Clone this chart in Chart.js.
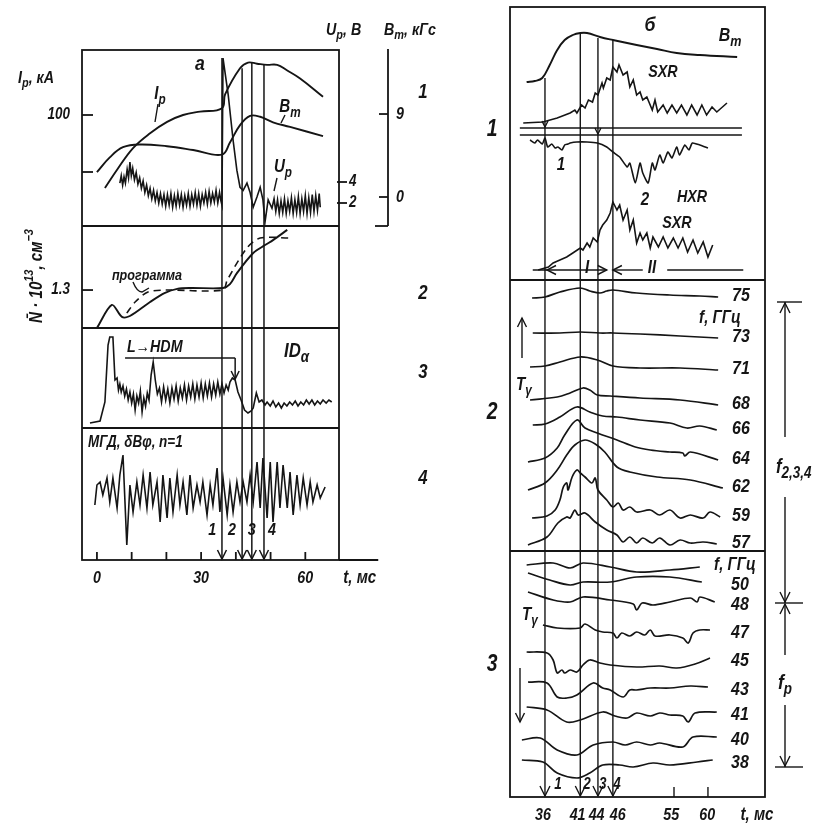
<!DOCTYPE html>
<html lang="ru">
  <head>
    <meta charset="UTF-8" />
    <title>Срыв разряда: сигналы и Tγ</title>
    <script src="https://cdn.jsdelivr.net/npm/chart.js"></script>
    <style>
      body { margin: 0; background: #fff; }
      #wrap { position: relative; width: 830px; height: 827px; }
      #wrap canvas { position: absolute; left: 0; top: 0; }
    </style>
  </head>
  <body>
    <div id="wrap">
      <canvas id="leftChart" width="830" height="827"></canvas>
      <canvas id="rightChart" width="830" height="827"></canvas>
    </div>

    <script>
      // ---------- panel а (left), t in ms ----------
      const leftTickT = [0, 30, 60];
      const leftMinorT = [0, 10, 20, 30, 40, 50, 60];
      const leftMarkT = [36.0, 41.8, 44.6, 48.1];
      const leftMarkTopIp = [150, 141, 146, 144]; // kA, where each marker meets the top curve
      const leftMarkText = ["1", "2", "3", "4"];
      const leftMarkTextT = [33.2, 38.9, 44.6, 50.4];
      const ipTickV = [50, 100];
      const ipTickText = ["", "100"];
      const btTickV = [0, 9];
      const upTickV = [2, 4];
      const densTickV = [1.3];
      const hdmArrowT = [8.1, 39.8];
      const hdmArrowV = 4.3;

      // plasma current, kA
      const ipCurve = [[2.3, 36], [5.8, 52], [10.4, 71], [15.3, 84], [20.2, 94], [24.8, 100], [29.7, 103], [36.0, 106],
        [36.9, 118], [41.2, 141], [43.5, 146], [46.1, 145], [49.0, 144], [51.9, 144], [54.8, 139], [58.5, 132], [65.1, 116]];
      // toroidal field, kGs
      const btLeft = [[0, 2.7], [3.7, 4.3], [7.5, 5.4], [12.4, 5.7], [20.2, 5.5], [27.7, 5.1], [36.0, 4.6], [38.3, 5.9],
        [41.2, 7.8], [44.1, 8.8], [47.0, 8.7], [50.7, 8.1], [55.6, 7.6], [65.1, 6.6]];
      // loop voltage, V
      const upVolt = [[6.6, 3.9], [7.0, 4.6], [7.4, 3.7], [7.8, 4.5], [8.2, 3.9], [8.7, 5.2], [9.1, 4.4], [9.5, 5.9], [9.9, 4.6],
        [10.3, 5.3], [10.8, 4.2], [11.3, 4.9], [11.8, 3.8], [12.3, 4.4], [12.8, 3.4], [13.3, 4.1], [13.8, 3.0], [14.3, 3.7],
        [14.8, 2.7], [15.3, 3.4], [15.8, 2.4], [16.3, 3.2], [16.8, 2.2], [17.3, 3.0], [17.8, 2.0], [18.3, 2.9], [18.8, 1.9],
        [19.3, 2.8], [19.8, 1.7], [20.3, 2.8], [20.8, 1.8], [21.3, 2.9], [21.8, 1.6], [22.3, 2.7], [22.8, 1.7], [23.3, 2.9],
        [23.8, 1.8], [24.3, 2.8], [24.8, 1.6], [25.3, 2.7], [25.8, 1.8], [26.3, 2.9], [26.8, 1.7], [27.3, 2.8], [27.8, 1.9],
        [28.3, 3.0], [28.8, 1.8], [29.3, 2.9], [29.8, 1.7], [30.3, 2.8], [30.8, 2.0], [31.3, 3.0], [31.8, 1.9], [32.3, 3.1],
        [32.8, 2.0], [33.3, 2.9], [33.8, 2.1], [34.3, 3.2], [34.8, 2.0], [35.3, 3.0], [35.7, 2.2], [36.0, 1.8], [36.3, 15.8],
        [37.8, 12.3], [39.2, 8.0], [40.3, 5.1], [41.2, 3.5], [42.1, 3.2], [43.2, 3.9], [44.1, 3.0], [45.0, 1.6], [46.1, 2.6],
        [47.0, 3.5], [47.8, 2.3], [48.4, 0.2], [49.3, 2.3], [50.4, 1.5], [51.0, 2.4], [51.5, 1.2], [52.0, 2.3], [52.5, 1.0],
        [53.0, 2.2], [53.5, 1.1], [54.0, 2.4], [54.5, 1.0], [55.0, 2.2], [55.5, 1.2], [56.0, 2.5], [56.5, 1.0], [57.0, 2.3],
        [57.5, 1.1], [58.0, 2.6], [58.5, 1.0], [59.0, 2.4], [59.5, 1.2], [60.0, 2.7], [60.5, 1.0], [61.0, 2.5], [61.5, 1.1],
        [62.0, 2.8], [62.5, 1.2], [63.0, 2.7], [63.5, 1.3], [64.0, 2.9], [64.3, 1.6]];
      // mean density, 10^13 cm^-3
      const densN = [[0, 0.0], [4.3, 0.79], [7.2, 0.38], [9.5, 0.41], [15.3, 0.89], [19.6, 1.2], [23.1, 1.34], [26.8, 1.37],
        [36.3, 1.37], [38.3, 1.5], [40.3, 1.88], [45.0, 2.57], [48.4, 2.84], [50.7, 3.01], [54.8, 3.36]];
      const densProgram = [[8.6, 0.51], [11.0, 0.89], [14.7, 1.23], [20.2, 1.3], [36.3, 1.3], [37.5, 1.64], [43.2, 2.74],
        [47.0, 3.08], [55.6, 3.08]];
      // D-alpha, arb. units
      const idAlpha = [[-2.0, 0], [0.9, 0.2], [2.3, 2.1], [3.2, 7.8], [3.7, 8.6], [4.6, 8.6], [5.2, 4.3], [5.8, 4.5], [6.2, 3.3],
        [6.6, 3.9], [7.0, 3.1], [7.5, 3.7], [8.0, 2.7], [8.5, 3.4], [9.0, 2.3], [9.5, 3.1], [10.0, 2.0], [10.5, 2.9], [11.0, 1.3],
        [11.5, 2.7], [12.0, 2.0], [12.5, 3.2], [13.0, 1.1], [13.5, 2.5], [14.0, 1.7], [14.5, 3.0], [15.0, 2.3], [15.6, 4.8],
        [16.2, 6.1], [16.8, 4.3], [17.4, 2.9], [18.0, 3.5], [18.6, 2.1], [19.2, 3.6], [19.8, 2.3], [20.4, 3.4], [21.0, 2.0],
        [21.6, 3.5], [22.2, 2.4], [22.8, 3.7], [23.4, 2.2], [24.0, 3.5], [24.6, 2.5], [25.2, 3.8], [25.8, 2.3], [26.4, 3.7],
        [27.0, 2.6], [27.6, 3.9], [28.2, 2.4], [28.8, 3.8], [29.4, 2.6], [30.0, 4.0], [30.6, 2.5], [31.2, 3.9], [31.8, 2.7],
        [32.4, 4.0], [33.0, 2.6], [33.6, 3.9], [34.2, 2.8], [34.8, 4.1], [35.4, 2.9], [36.0, 3.9], [36.6, 3.0], [37.2, 3.8],
        [37.8, 3.3], [38.3, 4.1], [39.0, 4.5], [39.8, 4.3], [40.6, 3.1], [41.5, 2.3], [42.5, 1.3], [43.5, 1.0], [44.4, 1.2],
        [45.0, 1.5], [45.9, 3.0], [46.7, 2.1], [47.5, 2.3], [48.4, 1.8], [49.0, 2.1], [49.9, 1.7], [50.7, 2.2], [51.5, 1.6],
        [52.3, 2.0], [53.1, 1.5], [53.9, 2.0], [54.7, 1.7], [55.5, 2.1], [56.3, 1.8], [57.1, 2.2], [57.9, 1.7], [58.7, 2.1],
        [59.5, 1.8], [60.3, 2.3], [61.1, 1.9], [61.9, 2.3], [62.7, 1.8], [63.5, 2.2], [64.3, 1.9], [65.1, 2.3], [66.0, 2.0],
        [66.8, 2.3], [67.6, 2.1]];
      // MHD probe, arb. units
      const mhdSignal = [[-0.6, -1.3], [0, 0.7], [0.9, 1.0], [1.7, -0.3], [2.9, 1.4], [3.7, -1.0], [4.6, 1.4], [5.8, -1.6],
        [6.6, 1.7], [7.5, 3.7], [8.6, -5.3], [9.5, 0.7], [10.4, -2.0], [11.5, 1.0], [12.4, -1.3], [13.3, 1.7], [14.4, -1.6],
        [15.3, 2.0], [16.1, -1.3], [17.3, 1.0], [18.2, -3.0], [19.0, 1.7], [20.2, -2.6], [21.0, 1.4], [21.9, -2.0], [23.1, 1.7],
        [23.9, -1.3], [24.8, 1.0], [25.9, -2.3], [26.8, 1.7], [27.7, -1.6], [28.8, 0.7], [29.7, -1.0], [30.5, 1.0], [31.7, -2.3],
        [32.6, 0.7], [33.4, -1.3], [34.6, 2.4], [35.4, -2.0], [36.3, 1.4], [37.5, -2.3], [38.3, 0.7], [39.2, -2.0], [40.3, 1.0],
        [41.2, -1.0], [42.1, 1.0], [43.2, -1.0], [44.1, 1.7], [45.0, -1.0], [46.1, 3.0], [47.0, -1.6], [47.8, 3.4], [49.0, -2.6],
        [49.9, 3.0], [50.7, -3.0], [51.9, 3.0], [52.7, -1.6], [53.6, 2.7], [54.8, -1.6], [55.6, 2.0], [56.5, -2.3], [57.6, 1.7],
        [58.5, -1.3], [59.4, 1.4], [60.5, -1.3], [61.4, 1.0], [62.2, -1.0], [63.4, 0.7], [64.3, -0.6], [65.7, 0.5]];

      // ---------- panel б (right), t in ms ----------
      const rightTickT = [36, 41, 44, 46, 55, 60];
      const rightTickTextT = [35.7, 40.8, 43.6, 46.7, 54.6, 59.9];
      const rightMinorT = [55, 60];
      const rightMarkT = [36.0, 41.2, 43.8, 46.0];
      const rightMarkTopBt = [0.4, 4.9, 4.4, 4.2];
      const rightMarkTextT = [37.9, 42.2, 44.5, 46.6];
      const refLineT = [32.3, 65.0];
      const phaseI = [34.2, 36.3, 45.1];
      const phaseII = [46.0, 50.4, 54.0, 65.2];

      const btRight = [[33.3, 0], [34.5, 0.1], [35.6, 0.4], [36.7, 1.7], [37.8, 3.2], [38.9, 4.2], [40.1, 4.7], [41.2, 4.9],
        [42.2, 4.9], [44.1, 4.5], [46.0, 4.2], [49.5, 3.7], [52.5, 3.3], [55.4, 2.9], [58.8, 2.7], [64.3, 2.5]];
      const sxrTop = [[32.8, 0.2], [35.7, 0.3], [37.8, 0.7], [39.7, 1.2], [40.4, 1.5], [40.7, 1.2], [41.4, 2.0], [41.9, 1.7],
        [42.4, 2.5], [43.0, 2.3], [43.4, 3.2], [43.8, 3.0], [44.4, 4.2], [44.6, 3.7], [45.1, 4.7], [45.6, 4.5], [46.0, 5.8],
        [46.6, 5.3], [46.9, 6.0], [47.5, 5.0], [48.1, 5.3], [48.5, 3.8], [49.0, 4.5], [49.5, 3.0], [50.0, 3.3], [50.4, 2.5],
        [51.0, 2.8], [51.8, 1.5], [52.2, 2.5], [52.6, 1.3], [53.4, 2.0], [54.0, 1.2], [54.7, 2.0], [55.4, 1.2], [56.1, 2.0],
        [56.9, 1.0], [57.6, 2.0], [58.4, 1.0], [59.1, 2.0], [59.8, 1.0], [60.6, 1.8], [61.3, 1.3], [62.8, 2.2]];
      const hxrTrace = [[33.8, 0], [34.5, -0.3], [34.9, 0], [35.6, -0.4], [36.0, 0.2], [36.4, -0.7], [37.0, -0.4], [37.5, -0.8],
        [37.9, -0.7], [38.5, -1.0], [38.9, -0.5], [39.4, -0.4], [39.7, -0.3], [40.7, -0.2], [42.2, -0.2], [43.7, -0.3],
        [45.1, -0.7], [46.0, -1.2], [47.0, -1.7], [48.1, -2.7], [48.5, -2.3], [49.3, -4.3], [50.0, -2.3], [50.4, -3.3],
        [51.2, -4.3], [51.8, -2.3], [52.2, -3.0], [52.9, -1.5], [53.4, -2.3], [54.1, -1.2], [54.7, -1.8], [55.4, -0.7],
        [55.8, -1.5], [56.6, -0.5], [57.2, -1.0], [57.7, -0.3], [58.8, -0.5], [60.0, -0.8]];
      const sxrLow = [[35.0, 0.2], [36.5, 0.5], [37.2, 0.9], [38.2, 1.2], [39.2, 1.5], [40.1, 1.9], [41.2, 2.4], [41.6, 2.2],
        [42.2, 2.9], [42.6, 2.5], [43.1, 3.4], [43.7, 3.0], [44.1, 4.2], [44.5, 4.7], [45.1, 5.2], [45.6, 5.9], [46.0, 7.0],
        [46.6, 6.2], [47.0, 6.7], [47.5, 5.2], [48.1, 6.2], [48.5, 4.2], [49.0, 5.2], [49.5, 2.9], [50.0, 3.9], [50.4, 3.2],
        [51.0, 3.9], [51.5, 2.4], [51.9, 3.5], [52.7, 2.5], [53.4, 3.5], [54.1, 2.4], [54.9, 3.4], [55.6, 2.4], [56.3, 3.4],
        [57.0, 2.0], [57.8, 3.2], [58.5, 1.9], [59.3, 3.0], [60.0, 1.5], [60.7, 2.7]];

      // ECE temperature traces, section 2 (f = 75 ... 57 GHz)
      const freq2 = ["75", "73", "71", "68", "66", "64", "62", "59", "57"];
      const f75 = [[34.1, 0], [36.0, 0.1], [38.2, 0.6], [41.2, 1.0], [42.6, 0.7], [44.1, 0.5], [45.1, 0.7], [46.0, 0.8],
        [49.5, 0.5], [54.4, 0.3], [58.8, 0.2], [61.5, 0.1]];
      const f73 = [[34.2, 0], [38.2, 0], [41.2, 0.1], [44.1, 0], [46.0, 0], [50.0, -0.1], [55.9, -0.3], [61.5, -0.5]];
      const f71 = [[33.8, 0], [36.0, 0.1], [38.2, 0.5], [41.2, 1.0], [43.7, 0.7], [46.0, 0.1], [50.0, -0.1], [55.9, -0.1],
        [61.5, -0.3]];
      const f68 = [[33.8, 0], [37.8, 0.3], [39.7, 0.7], [41.6, 1.2], [42.6, 1.0], [43.7, 0.5], [45.6, 0.4], [50.0, 0.2],
        [55.9, 0], [61.5, -0.5]];
      const f66 = [[34.2, 0], [36.0, 0.1], [38.2, 0.8], [40.7, 1.8], [42.6, 1.3], [44.5, 0.9], [46.6, 0.8], [50.0, 0.5],
        [54.4, 0.2], [56.9, -0.3], [58.8, -0.1], [61.3, -0.5]];
      const f64 = [[33.5, 0], [36.0, 0.4], [37.8, 1.4], [38.9, 2.7], [40.7, 4.2], [41.9, 3.4], [43.7, 2.9], [46.6, 2.2],
        [49.3, 1.5], [51.5, 1.2], [54.4, 1.0], [56.3, 0.9], [56.6, 0.6], [57.4, 1.0], [61.5, 0.2]];
      const f62 = [[33.5, 0], [36.0, 0.7], [37.8, 2.0], [39.2, 3.5], [40.4, 4.5], [41.9, 5.0], [43.4, 4.6], [44.8, 3.8],
        [46.6, 2.3], [48.5, 1.8], [52.5, 1.3], [57.4, 1.0], [62.2, 0.2]];
      const f59 = [[34.1, 0], [36.3, 0.2], [37.5, 0.8], [38.2, 1.8], [38.7, 3.1], [39.2, 3.5], [39.4, 2.8], [40.0, 4.1],
        [40.7, 4.8], [41.2, 4.5], [41.9, 4.1], [42.9, 3.5], [43.4, 4.0], [43.8, 2.8], [45.1, 1.8], [46.0, 1.1], [46.8, 1.5],
        [47.5, 0.8], [48.5, 1.1], [49.5, 0.6], [51.5, 0.8], [52.9, 0.3], [54.4, 0.8], [55.9, 0], [57.4, 0.3], [59.3, 0],
        [60.3, 0.6], [61.8, 0.1]];
      const f57 = [[33.5, 0], [36.3, 0.8], [37.9, 2.2], [39.2, 2.8], [39.7, 2.7], [40.4, 3.5], [40.9, 3.0], [41.9, 3.2],
        [43.4, 2.3], [45.1, 1.5], [46.6, 1.0], [47.5, 0.3], [48.5, 0.8], [49.5, 0.2], [50.4, 0.7], [51.8, 0.2], [52.9, 0.7],
        [54.4, 0], [55.9, 0.5], [57.4, 0.2], [59.3, 0.3], [61.3, 0.1]];

      // section 3 (f = ... 50 ... 38 GHz)
      const freq3 = ["", "50", "48", "47", "45", "43", "41", "40", "38"];
      const fTop = [[33.3, 0], [37.2, 0.2], [39.7, -0.3], [41.6, 0.2], [45.6, -0.2], [49.5, -0.7], [54.4, -0.5], [58.8, -0.2]];
      const f50 = [[33.5, 0], [36.7, -0.7], [39.7, -1.2], [41.6, -0.9], [45.6, -0.9], [49.5, -0.4], [54.4, -0.4], [59.1, -0.9]];
      const f48 = [[33.5, 0], [37.2, -0.8], [39.7, -1.0], [41.6, -0.5], [45.6, -0.8], [49.0, -1.2], [49.5, -1.8], [50.3, -1.1],
        [51.9, -1.3], [54.4, -1.0], [57.4, -0.6], [58.4, -1.0], [58.8, -0.5], [61.0, -1.0]];
      const f47 = [[35.7, 0], [37.8, -0.3], [41.2, -0.3], [41.9, 0.1], [43.4, -0.5], [44.5, -0.7], [46.0, -0.8], [46.6, -1.3],
        [47.3, -0.8], [48.5, -1.1], [49.5, -0.7], [50.7, -1.0], [51.5, -0.5], [52.2, -1.1], [54.4, -1.0], [56.3, -1.3],
        [57.1, -1.8], [57.8, -0.8], [58.8, -0.5], [60.3, -0.5]];
      const f45 = [[33.3, 0], [36.3, -0.1], [37.2, -0.8], [37.8, -2.1], [38.5, -1.8], [38.9, -2.1], [39.7, -1.8], [40.7, -2.0],
        [41.6, -1.3], [42.6, -0.8], [44.1, -1.1], [45.6, -1.3], [49.5, -1.5], [52.9, -1.4], [55.4, -1.6], [58.1, -1.2],
        [60.3, -0.6]];
      const f43 = [[33.5, 0], [36.3, -0.1], [37.8, -1.5], [39.2, -1.6], [40.7, -1.3], [43.1, -0.1], [44.5, -0.6], [45.6, -0.8],
        [47.5, -1.5], [48.5, -0.8], [49.5, -0.8], [51.5, -0.6], [54.4, -0.6], [57.4, -0.4], [60.0, -0.5]];
      const f41 = [[33.3, 0], [36.3, -0.3], [39.2, -1.5], [41.2, -1.3], [44.5, -0.5], [46.3, -0.9], [48.1, -1.1], [49.5, -0.6],
        [51.5, -0.9], [52.9, -0.6], [54.4, -0.8], [56.3, -0.9], [57.1, -1.5], [58.1, -0.6], [61.3, -0.5]];
      const f40 = [[32.6, 0], [35.3, 0.2], [37.8, -1.0], [40.7, -1.5], [43.1, -0.5], [46.0, -0.2], [47.8, -0.5], [49.5, -0.2],
        [51.5, -0.5], [52.9, -0.3], [56.3, -0.7], [57.8, 0.3], [61.3, 0.3]];
      const f38 = [[32.6, 0], [35.7, -0.2], [37.8, -1.3], [40.7, -1.8], [42.6, -1.3], [44.5, -0.5], [47.0, -0.5], [49.0, -0.7],
        [51.9, -0.3], [54.4, -0.5], [58.4, -0.2], [60.7, 0]];

      // ---------- layout (page pixels) ----------
      const INK = "#151515";
      const FONT = '"Liberation Sans", "DejaVu Sans", sans-serif';
      const SQUEEZE = 0.84; // narrow the lettering like the drafting font
      const LEFT_BOX = { left: 82, right: 339, top: 50, bottom: 560 };
      const LEFT_T = { min: -4.3, max: 69.7, axisEnd: 81 };
      const LEFT_STRIPS = [226, 328, 428];
      const BT_AXIS = { x: 388, top: 49 };
      // [pixel of zero, pixels per unit] for each left trace
      const LEFT_Y = { ip: [229, 1.14], bt: [197, 9.22], up: [224, 10.5], dens: [328, 29.2], ida: [423, 10], mhd: [492, 10] };
      const RIGHT_BOX = { left: 510, right: 765, top: 7, bottom: 797 };
      const RIGHT_T = { min: 30.85, max: 68.4 };
      const RIGHT_SECTIONS = [280, 551];
      const REF_LINES = [128, 135];
      const RIGHT_K = 10;
      const RIGHT_Y1 = { btR: 82, sxrA: 125, hxr: 140, sxrB: 272 };
      const RIGHT_Y2 = [298, 333, 367, 400, 425, 462, 490, 518, 545];
      const RIGHT_Y3 = [565, 573, 592, 625, 652, 682, 707, 740, 760];

      function pad(box) {
        return { left: box.left, top: box.top, right: 830 - box.right, bottom: 827 - box.bottom };
      }

      // hidden y scale whose zero sits at pixel `zero`, k pixels per unit
      function yAxis(zero, k, box) {
        return { type: "linear", display: false, min: (zero - box.bottom) / k, max: (zero - box.top) / k };
      }

      function trace(pts, axis, tension, extra) {
        return Object.assign({
          data: pts.map((p) => ({ x: p[0], y: p[1] })),
          yAxisID: axis,
          borderColor: INK,
          borderWidth: 1.9,
          pointRadius: 0,
          tension: tension,
          fill: false
        }, extra || {});
      }

      function seg(ctx, x1, y1, x2, y2) {
        ctx.beginPath();
        ctx.moveTo(x1, y1);
        ctx.lineTo(x2, y2);
        ctx.stroke();
      }

      function head(ctx, x, y, dir, s) {
        const w = s * 0.5;
        ctx.beginPath();
        if (dir === "down") { ctx.moveTo(x - w, y - s); ctx.lineTo(x, y); ctx.lineTo(x + w, y - s); }
        if (dir === "up") { ctx.moveTo(x - w, y + s); ctx.lineTo(x, y); ctx.lineTo(x + w, y + s); }
        if (dir === "left") { ctx.moveTo(x + s, y - w); ctx.lineTo(x, y); ctx.lineTo(x + s, y + w); }
        if (dir === "right") { ctx.moveTo(x - s, y - w); ctx.lineTo(x, y); ctx.lineTo(x - s, y + w); }
        ctx.stroke();
      }

      // italic text with optional {sub:..} / {sup:..} parts
      function write(ctx, x, y, parts, size, align) {
        const segs = [].concat(parts).map((p) => {
          if (typeof p === "string") return { s: p, f: size, dy: 0 };
          if (p.sub !== undefined) return { s: p.sub, f: Math.round(size * 0.78), dy: size * 0.32 };
          return { s: p.sup, f: Math.round(size * 0.72), dy: -size * 0.42 };
        });
        let w = 0;
        segs.forEach((g) => {
          ctx.font = "italic bold " + g.f + "px " + FONT;
          g.w = ctx.measureText(g.s).width;
          w += g.w;
        });
        const sw = w * SQUEEZE;
        const x0 = align === "center" ? x - sw / 2 : align === "right" ? x - sw : x;
        ctx.save();
        ctx.translate(x0, y);
        ctx.scale(SQUEEZE, 1);
        ctx.textAlign = "left";
        ctx.textBaseline = "middle";
        let cx = 0;
        segs.forEach((g) => {
          ctx.font = "italic bold " + g.f + "px " + FONT;
          ctx.fillText(g.s, cx, g.dy);
          cx += g.w;
        });
        ctx.restore();
      }

      const leftDecor = {
        id: "leftDecor",
        afterDraw(chart) {
          const { ctx, chartArea: a } = chart;
          const X = (t) => chart.scales.x.getPixelForValue(t);
          const Y = (id, v) => chart.scales[id].getPixelForValue(v);
          ctx.save();
          ctx.strokeStyle = INK;
          ctx.fillStyle = INK;
          ctx.lineWidth = 1.8;

          // frame, strips, time axis
          ctx.strokeRect(a.left, a.top, a.right - a.left, a.bottom - a.top);
          LEFT_STRIPS.forEach((y) => seg(ctx, a.left, y, a.right, y));
          seg(ctx, a.right, a.bottom, X(LEFT_T.axisEnd), a.bottom);
          leftMinorT.forEach((t) => seg(ctx, X(t), a.bottom, X(t), a.bottom - 8));
          leftTickT.forEach((t) => write(ctx, X(t), a.bottom + 18, [String(t)], 17, "center"));
          write(ctx, X(LEFT_T.axisEnd) - 2, a.bottom + 18, ["t, мс"], 18, "right");

          // left ticks (Ip, density)
          ipTickV.forEach((v, i) => {
            const y = Y("ip", v);
            seg(ctx, a.left, y, a.left + 11, y);
            write(ctx, a.left - 12, y, [ipTickText[i]], 16, "right");
          });
          densTickV.forEach((v) => {
            const y = Y("dens", v);
            seg(ctx, a.left, y, a.left + 11, y);
            write(ctx, a.left - 12, y, [String(v)], 16, "right");
          });
          // Up ticks on the right edge
          upTickV.forEach((v) => {
            const y = Y("up", v);
            seg(ctx, a.right - 2, y, a.right + 8, y);
            write(ctx, a.right + 10, y, [String(v)], 16, "left");
          });
          // separate Bt axis
          seg(ctx, BT_AXIS.x, BT_AXIS.top, BT_AXIS.x, LEFT_STRIPS[0]);
          seg(ctx, BT_AXIS.x - 13, LEFT_STRIPS[0], BT_AXIS.x, LEFT_STRIPS[0]);
          btTickV.forEach((v) => {
            const y = Y("bt", v);
            seg(ctx, BT_AXIS.x - 9, y, BT_AXIS.x, y);
            write(ctx, BT_AXIS.x + 8, y, [String(v)], 17, "left");
          });

          // axis titles
          write(ctx, 18, 78, ["I", { sub: "p" }, ", кА"], 17, "left");
          write(ctx, 326, 30, ["U", { sub: "p" }, ", В"], 17, "left");
          write(ctx, 384, 30, ["B", { sub: "т" }, ", кГс"], 17, "left");
          ctx.save();
          ctx.translate(37, 276);
          ctx.rotate(-Math.PI / 2);
          write(ctx, 0, 0, ["N̄ · 10", { sup: "13" }, ", см", { sup: "−3" }], 18, "center");
          ctx.restore();

          // strip numbers
          [["1", 92], ["2", 293], ["3", 372], ["4", 478]].forEach((n) => write(ctx, 423, n[1], [n[0]], 20, "center"));

          // curve labels
          ctx.lineWidth = 1.4;
          write(ctx, 200, 64, ["а"], 21, "center");
          write(ctx, 160, 94, ["I", { sub: "p" }], 18, "center");
          seg(ctx, 158, 104, 155, 122);
          write(ctx, 290, 107, ["B", { sub: "т" }], 18, "center");
          seg(ctx, 285, 115, 281, 123);
          write(ctx, 283, 167, ["U", { sub: "p" }], 18, "center");
          seg(ctx, 277, 178, 274, 191);
          write(ctx, 147, 276, ["программа"], 15, "center");
          ctx.beginPath();
          ctx.moveTo(133, 282);
          ctx.quadraticCurveTo(137, 292, 142, 292);
          ctx.lineTo(149, 288);
          ctx.stroke();

          // L -> HDM transition arrow
          write(ctx, 127, 347, ["L→HDM"], 17, "left");
          ctx.lineWidth = 1.5;
          seg(ctx, X(hdmArrowT[0]), 358, X(hdmArrowT[1]), 358);
          seg(ctx, X(hdmArrowT[1]), 358, X(hdmArrowT[1]), Y("ida", hdmArrowV) - 1);
          head(ctx, X(hdmArrowT[1]), Y("ida", hdmArrowV) - 1, "down", 8);
          write(ctx, 284, 351, ["ID", { sub: "α" }], 20, "left");
          write(ctx, 88, 443, ["МГД, δBφ, n=1"], 16, "left");

          // event markers 1-4
          leftMarkT.forEach((t, i) => {
            const x = X(t);
            seg(ctx, x, Y("ip", leftMarkTopIp[i]), x, a.bottom - 1);
            head(ctx, x, a.bottom - 1, "down", 9);
            write(ctx, X(leftMarkTextT[i]), 530, [leftMarkText[i]], 17, "center");
          });
          ctx.restore();
        }
      };

      const rightDecor = {
        id: "rightDecor",
        afterDraw(chart) {
          const { ctx, chartArea: a } = chart;
          const X = (t) => chart.scales.x.getPixelForValue(t);
          const Y = (id, v) => chart.scales[id].getPixelForValue(v);
          ctx.save();
          ctx.strokeStyle = INK;
          ctx.fillStyle = INK;
          ctx.lineWidth = 1.8;

          ctx.strokeRect(a.left, a.top, a.right - a.left, a.bottom - a.top);
          RIGHT_SECTIONS.forEach((y) => seg(ctx, a.left, y, a.right, y));
          ctx.lineWidth = 1.4;
          REF_LINES.forEach((y) => seg(ctx, X(refLineT[0]), y, X(refLineT[1]), y));
          head(ctx, X(rightMarkT[0]), REF_LINES[0] - 1, "down", 6);
          head(ctx, X(rightMarkT[2]), REF_LINES[1] - 1, "down", 6);

          // event markers
          rightMarkT.forEach((t, i) => {
            const x = X(t);
            seg(ctx, x, Y("btR", rightMarkTopBt[i]), x, a.bottom - 1);
            head(ctx, x, a.bottom - 1, "down", 10);
            write(ctx, X(rightMarkTextT[i]), 785, [leftMarkText[i]], 16, "center");
          });

          // time axis
          rightMinorT.forEach((t) => seg(ctx, X(t), a.bottom, X(t), a.bottom - 10));
          rightTickT.forEach((t, i) => write(ctx, X(rightTickTextT[i]), a.bottom + 18, [String(t)], 17, "center"));
          write(ctx, 757, a.bottom + 18, ["t, мс"], 18, "center");

          // phases I and II
          const py = 270;
          seg(ctx, X(phaseI[0]), py, X(phaseI[2]), py);
          head(ctx, X(phaseI[1]), py, "left", 9);
          head(ctx, X(phaseI[2]), py, "right", 9);
          seg(ctx, X(phaseII[0]), py, X(phaseII[1]), py);
          head(ctx, X(phaseII[0]), py, "left", 9);
          seg(ctx, X(phaseII[2]), py, X(phaseII[3]), py);
          write(ctx, 587, 268, ["I"], 18, "center");
          write(ctx, 652, 268, ["II"], 18, "center");

          // section 1 labels
          write(ctx, 650, 25, ["б"], 21, "center");
          write(ctx, 730, 36, ["B", { sub: "т" }], 19, "center");
          write(ctx, 663, 72, ["SXR"], 17, "center");
          write(ctx, 561, 165, ["1"], 18, "center");
          write(ctx, 645, 200, ["2"], 18, "center");
          write(ctx, 692, 197, ["HXR"], 17, "center");
          write(ctx, 677, 223, ["SXR"], 17, "center");

          // section numbers
          [["1", 130], ["2", 413], ["3", 665]].forEach((n) => write(ctx, 492, n[1], [n[0]], 23, "center"));

          // frequency labels
          write(ctx, 720, 318, ["f, ГГц"], 18, "center");
          write(ctx, 735, 565, ["f, ГГц"], 18, "center");
          ecs2.forEach((pts, i) => {
            const last = pts[pts.length - 1];
            write(ctx, 741, Y("s2_" + i, last[1]) - 1, [freq2[i]], 19, "center");
          });
          ecs3.forEach((pts, i) => {
            if (!freq3[i]) return;
            const last = pts[pts.length - 1];
            write(ctx, 740, Y("s3_" + i, last[1]) + 3, [freq3[i]], 19, "center");
          });

          // T_gamma arrows
          write(ctx, 524, 385, ["T", { sub: "γ" }], 18, "center");
          seg(ctx, 522, 358, 522, 318);
          head(ctx, 522, 318, "up", 9);
          write(ctx, 530, 615, ["T", { sub: "γ" }], 18, "center");
          seg(ctx, 520, 668, 520, 722);
          head(ctx, 520, 722, "down", 9);

          // frequency ranges on the right
          const bx = 785;
          seg(ctx, 777, 302, 802, 302);
          seg(ctx, bx, 302, bx, 437);
          head(ctx, bx, 303, "up", 10);
          write(ctx, 776, 467, ["f", { sub: "2,3,4" }], 20, "left");
          seg(ctx, bx, 497, bx, 603);
          head(ctx, bx, 602, "down", 10);
          seg(ctx, 775, 603, 803, 603);
          head(ctx, bx, 604, "up", 10);
          seg(ctx, bx, 604, bx, 655);
          write(ctx, bx, 683, ["f", { sub: "p" }], 21, "center");
          seg(ctx, bx, 705, bx, 767);
          head(ctx, bx, 766, "down", 10);
          seg(ctx, 775, 767, 803, 767);
          ctx.restore();
        }
      };

      const ecs2 = [f75, f73, f71, f68, f66, f64, f62, f59, f57];
      const ecs3 = [fTop, f50, f48, f47, f45, f43, f41, f40, f38];

      // ---------- left chart ----------
      const leftScales = { x: { type: "linear", display: false, min: LEFT_T.min, max: LEFT_T.max } };
      Object.keys(LEFT_Y).forEach((id) => {
        leftScales[id] = yAxis(LEFT_Y[id][0], LEFT_Y[id][1], LEFT_BOX);
      });

      new Chart(document.getElementById("leftChart"), {
        type: "line",
        data: {
          datasets: [
            trace(ipCurve, "ip", 0.4),
            trace(btLeft, "bt", 0.4),
            trace(upVolt, "up", 0, { borderWidth: 1.6 }),
            trace(densN, "dens", 0.3),
            trace(densProgram, "dens", 0.3, { borderDash: [7, 5], borderWidth: 1.6 }),
            trace(idAlpha, "ida", 0, { borderWidth: 1.6 }),
            trace(mhdSignal, "mhd", 0, { borderWidth: 1.6 })
          ]
        },
        options: {
          responsive: false,
          animation: false,
          events: [],
          layout: { padding: pad(LEFT_BOX) },
          plugins: { legend: { display: false }, tooltip: { enabled: false } },
          scales: leftScales
        },
        plugins: [leftDecor]
      });

      // ---------- right chart ----------
      const rightScales = { x: { type: "linear", display: false, min: RIGHT_T.min, max: RIGHT_T.max } };
      Object.keys(RIGHT_Y1).forEach((id) => {
        rightScales[id] = yAxis(RIGHT_Y1[id], RIGHT_K, RIGHT_BOX);
      });
      RIGHT_Y2.forEach((z, i) => { rightScales["s2_" + i] = yAxis(z, RIGHT_K, RIGHT_BOX); });
      RIGHT_Y3.forEach((z, i) => { rightScales["s3_" + i] = yAxis(z, RIGHT_K, RIGHT_BOX); });

      const rightSets = [
        trace(btRight, "btR", 0.4),
        trace(sxrTop, "sxrA", 0, { borderWidth: 1.6 }),
        trace(hxrTrace, "hxr", 0.2, { borderWidth: 1.6 }),
        trace(sxrLow, "sxrB", 0, { borderWidth: 1.6 })
      ];
      ecs2.forEach((pts, i) => rightSets.push(trace(pts, "s2_" + i, 0.35, { borderWidth: 1.7 })));
      ecs3.forEach((pts, i) => rightSets.push(trace(pts, "s3_" + i, 0.35, { borderWidth: 1.7 })));

      new Chart(document.getElementById("rightChart"), {
        type: "line",
        data: { datasets: rightSets },
        options: {
          responsive: false,
          animation: false,
          events: [],
          layout: { padding: pad(RIGHT_BOX) },
          plugins: { legend: { display: false }, tooltip: { enabled: false } },
          scales: rightScales
        },
        plugins: [rightDecor]
      });
    </script>
  </body>
</html>
